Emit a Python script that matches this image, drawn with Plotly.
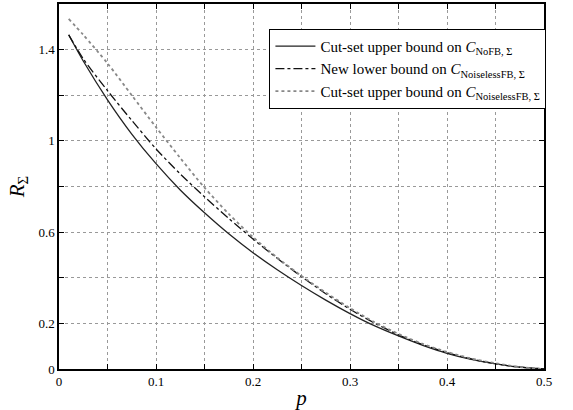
import plotly.graph_objs as go

# crossover probability p
p = [0.01, 0.025, 0.05, 0.075, 0.1, 0.125, 0.15, 0.175, 0.2, 0.225, 0.25, 0.275,
     0.3, 0.325, 0.35, 0.375, 0.4, 0.425, 0.45, 0.475, 0.5]

cutset_nofb = [1.465, 1.35, 1.18, 1.03, 0.90, 0.785, 0.685, 0.593, 0.51, 0.435, 0.366, 0.302,
               0.243, 0.19, 0.145, 0.104, 0.069, 0.042, 0.022, 0.008, 0.0]
lower_noiseless = [1.465, 1.36, 1.22, 1.09, 0.965, 0.855, 0.755, 0.66, 0.57, 0.485, 0.405, 0.33,
                   0.262, 0.202, 0.15, 0.107, 0.072, 0.044, 0.023, 0.008, 0.0]
cutset_noiseless = [1.535, 1.465, 1.34, 1.20, 1.06, 0.925, 0.795, 0.68, 0.578, 0.488, 0.408, 0.335,
                    0.267, 0.206, 0.154, 0.11, 0.075, 0.046, 0.025, 0.009, 0.0]

names = ['Cut-set upper bound on <i>C</i><sub>NoFB, Σ</sub>',
         'New lower bound on <i>C</i><sub>NoiselessFB, Σ</sub>',
         'Cut-set upper bound on <i>C</i><sub>NoiselessFB, Σ</sub>']

x_ticks = [0, 0.1, 0.2, 0.3, 0.4, 0.5]
x_labels = ['0', '0.1', '0.2', '0.3', '0.4', '0.5']
y_ticks = [0, 0.2, 0.6, 1.0, 1.4]
y_labels = ['0', '0.2', '0.6', '1', '1.4']

fig = go.Figure()
fig.add_trace(go.Scatter(x=p, y=cutset_nofb, name=names[0], mode='lines',
                         line=dict(color='#222222', width=1.3, dash='solid', shape='spline', smoothing=0.8)))
fig.add_trace(go.Scatter(x=p, y=lower_noiseless, name=names[1], mode='lines',
                         line=dict(color='#111111', width=1.3, dash='dashdot', shape='spline', smoothing=0.8)))
fig.add_trace(go.Scatter(x=p, y=cutset_noiseless, name=names[2], mode='lines',
                         line=dict(color='#888888', width=1.8, dash='dot', shape='spline', smoothing=0.8)))

axis_common = dict(showline=True, linecolor='black', linewidth=1.5, mirror='ticks',
                   ticks='inside', ticklen=5, tickcolor='black',
                   showgrid=True, gridcolor='#999999', gridwidth=1, griddash='dot',
                   zeroline=False, tickfont=dict(size=13, color='black'))
minor_common = dict(ticks='inside', ticklen=5, tickcolor='black', showgrid=True,
                    gridcolor='#999999', gridwidth=1, griddash='dot')

fig.update_xaxes(range=[0, 0.5], tickvals=x_ticks, ticktext=x_labels,
                 minor=dict(dtick=0.05, **minor_common),
                 title=dict(text='<i>p</i>', font=dict(size=21), standoff=2), **axis_common)
fig.update_yaxes(range=[0, 1.6], tickvals=y_ticks, ticktext=y_labels,
                 minor=dict(tickvals=[0.4, 0.8, 1.2], **minor_common),
                 title=dict(text='<i>R</i><sub>Σ</sub>', font=dict(size=21), standoff=8), **axis_common)

fig.update_layout(
    width=573, height=410,
    margin=dict(l=59, r=29, t=2, b=41),
    paper_bgcolor='white',
    plot_bgcolor='white',
    font=dict(family='Liberation Serif, Times New Roman, serif', size=13, color='black'),
    showlegend=True,
    legend=dict(x=1.005, xanchor='right', y=0.932, yanchor='top',
                bgcolor='white', bordercolor='black', borderwidth=1,
                font=dict(size=15), tracegroupgap=0, itemwidth=40),
)

# page body has a default 8px margin, drop it so the figure sits at 0,0
fig.write_html("out.html", config={'displayModeBar': False},
               post_script="document.body.style.margin='0';")
